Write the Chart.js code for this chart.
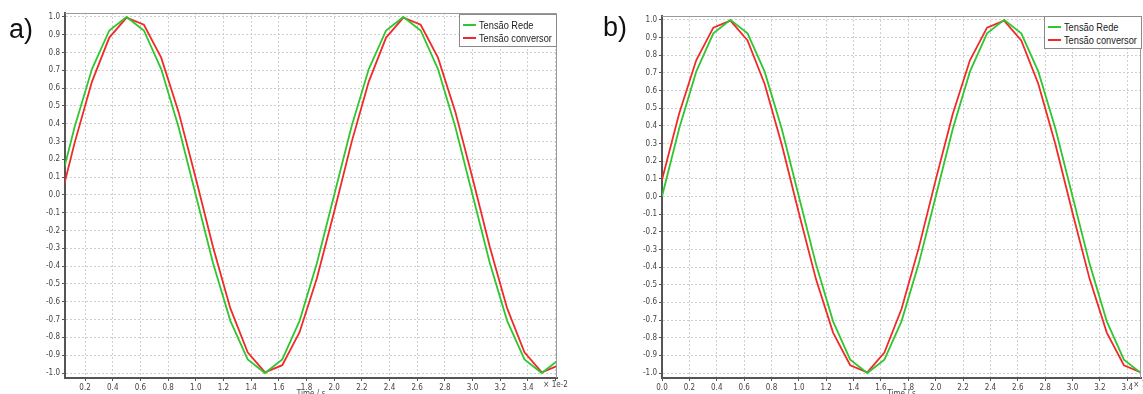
<!DOCTYPE html>
<html>
<head>
<meta charset="utf-8">
<script src="https://cdn.jsdelivr.net/npm/chart.js@4.4.0/dist/chart.umd.min.js"></script>
<style>
    body { margin: 0; background: #fff; width: 1143px; height: 394px; overflow: hidden; position: relative; font-family: 'Liberation Sans', Arial, sans-serif; }
    canvas { position: absolute; top: 0; }
    .painel { position: absolute; font-size: 27px; color: #111; line-height: 1; }
    .legenda { position: absolute; background: #fff; border: 1px solid #8a8a8a; box-sizing: border-box; font-family: 'Liberation Sans', Arial, sans-serif; font-size: 10.5px; color: #222; }
    .legenda div { position: absolute; left: 3px; height: 12px; line-height: 12px; white-space: nowrap; }
    .legenda span { display: inline-block; width: 13px; height: 2px; vertical-align: middle; margin-right: 3px; margin-top: -2px; }
    .legenda b { font-weight: normal; display: inline-block; transform: scaleX(0.88); transform-origin: left center; }
</style>
</head>
<body>
<canvas id="grafico-a" width="571" height="394" style="left:0"></canvas>
<canvas id="grafico-b" width="571" height="394" style="left:572px"></canvas>
<div class="painel" style="left:9px; top:16px">a)</div>
<div class="painel" style="left:603px; top:14px">b)</div>
<div class="legenda" style="left:459px; top:14px; width:98px; height:33px">
    <div style="top:4px"><span style="background:#2fc62f"></span><b>Tensão Rede</b></div>
    <div style="top:17px"><span style="background:#f02a2a"></span><b>Tensão conversor</b></div>
</div>
<div class="legenda" style="left:1044px; top:16px; width:98px; height:33px">
    <div style="top:4px"><span style="background:#2fc62f"></span><b>Tensão Rede</b></div>
    <div style="top:17px"><span style="background:#f02a2a"></span><b>Tensão conversor</b></div>
</div>
<script>
// tempo em unidades de 1e-2 s
const tempo = [0, 0.125, 0.25, 0.375, 0.5, 0.625, 0.75, 0.875, 1.0, 1.125, 1.25, 1.375, 1.5, 1.625, 1.75, 1.875,
    2.0, 2.125, 2.25, 2.375, 2.5, 2.625, 2.75, 2.875, 3.0, 3.125, 3.25, 3.375, 3.5, 3.625];

const redeA = [0, 0.383, 0.707, 0.924, 1.0, 0.924, 0.707, 0.383, 0, -0.383, -0.707, -0.924, -1.0, -0.924, -0.707, -0.383,
    0, 0.383, 0.707, 0.924, 1.0, 0.924, 0.707, 0.383, 0, -0.383, -0.707, -0.924, -1.0, -0.924];
const conversorA = [-0.094, 0.294, 0.637, 0.884, 0.996, 0.956, 0.771, 0.468, 0.094, -0.294, -0.637, -0.884, -0.996, -0.956, -0.771, -0.468,
    -0.094, 0.294, 0.637, 0.884, 0.996, 0.956, 0.771, 0.468, 0.094, -0.294, -0.637, -0.884, -0.996, -0.956];

const redeB = [0, 0.383, 0.707, 0.924, 1.0, 0.924, 0.707, 0.383, 0, -0.383, -0.707, -0.924, -1.0, -0.924, -0.707, -0.383,
    0, 0.383, 0.707, 0.924, 1.0, 0.924, 0.707, 0.383, 0, -0.383, -0.707, -0.924, -1.0];
const conversorB = [0.094, 0.468, 0.771, 0.956, 0.996, 0.884, 0.637, 0.294, -0.094, -0.468, -0.771, -0.956, -0.996, -0.884, -0.637, -0.294,
    0.094, 0.468, 0.771, 0.956, 0.996, 0.884, 0.637, 0.294, -0.094, -0.468, -0.771, -0.956, -0.996];

const corRede = '#2fc62f';
const corConversor = '#f02a2a';

function pontos(valores) {
    return valores.map((v, i) => ({ x: tempo[i], y: v }));
}

// moldura, titulo do eixo e multiplicador
const extras = {
    id: 'extras',
    afterDraw(chart, args, opts) {
        const ctx = chart.ctx;
        const area = chart.chartArea;
        const x = chart.scales.x;
        ctx.save();
        ctx.strokeStyle = '#9a9a9a';
        ctx.lineWidth = 1;
        ctx.beginPath();
        ctx.moveTo(area.left, area.top + 0.5);
        ctx.lineTo(area.right - 0.5, area.top + 0.5);
        ctx.lineTo(area.right - 0.5, area.bottom);
        ctx.stroke();
        ctx.fillStyle = '#444';
        ctx.font = '8px "DejaVu Sans Condensed", "DejaVu Sans", sans-serif';
        ctx.textBaseline = 'middle';
        if (opts.multCentro) {
            ctx.textAlign = 'center';
            ctx.fillText('× 1e-2', x.getPixelForValue(opts.multPos), opts.yLabel);
        } else {
            ctx.textAlign = 'left';
            ctx.fillText('× 1e-2', x.getPixelForValue(opts.multPos) + 6, opts.yLabel);
        }
        ctx.textAlign = 'center';
        ctx.textBaseline = 'top';
        ctx.fillText('Time / s', (area.left + area.right) / 2, 390);
        ctx.restore();
    }
};

function criarGrafico(id, rede, conversor, cfg) {
    return new Chart(document.getElementById(id), {
        type: 'line',
        data: {
            datasets: [{
                label: 'Tensão Rede',
                data: pontos(rede),
                borderColor: corRede,
                borderWidth: 1.8,
                pointRadius: 0,
                tension: 0,
                clip: 0
            }, {
                label: 'Tensão conversor',
                data: pontos(conversor),
                borderColor: corConversor,
                borderWidth: 1.8,
                pointRadius: 0,
                tension: 0,
                clip: 0
            }]
        },
        options: {
            responsive: false,
            animation: false,
            layout: { padding: cfg.padding },
            plugins: {
                legend: { display: false },
                tooltip: { enabled: false },
                extras: cfg.extras
            },
            scales: {
                x: {
                    type: 'linear',
                    min: cfg.xMin,
                    max: cfg.xMax,
                    afterFit: (s) => { s.height = 16; },
                    ticks: {
                        stepSize: 0.2,
                        includeBounds: false,
                        autoSkip: false,
                        maxRotation: 0,
                        padding: 2,
                        color: '#444',
                        font: { family: '"DejaVu Sans Condensed", "DejaVu Sans", sans-serif', size: 8 },
                        callback: (v) => (v > 3.45 ? '' : v.toFixed(1))
                    },
                    grid: { color: '#cfcfcf', tickColor: '#555', tickLength: 3 },
                    border: { color: '#555', width: 2, dash: [2, 2] }
                },
                y: {
                    min: -1.028,
                    max: 1.022,
                    afterFit: (s) => { s.width = cfg.yWidth; },
                    ticks: {
                        stepSize: 0.1,
                        includeBounds: false,
                        autoSkip: false,
                        padding: 2,
                        color: '#444',
                        font: { family: '"DejaVu Sans Condensed", "DejaVu Sans", sans-serif', size: 8 },
                        callback: (v) => v.toFixed(1)
                    },
                    grid: { color: '#cfcfcf', tickColor: '#555', tickLength: 3 },
                    border: { color: '#555', width: 2, dash: [2, 2] }
                }
            }
        },
        plugins: [extras]
    });
}

criarGrafico('grafico-a', redeA, conversorA, {
    xMin: 0.055, xMax: 3.61, yWidth: 65,
    padding: { left: 0, right: 14, top: 13, bottom: 0 },
    extras: { multPos: 3.6, multCentro: true, yLabel: 385 }
});

criarGrafico('grafico-b', redeB, conversorB, {
    xMin: 0, xMax: 3.5, yWidth: 90,
    padding: { left: 0, right: 2, top: 16, bottom: 0 },
    extras: { multPos: 3.4, multCentro: false, yLabel: 385 }
});
</script>
</body>
</html>
